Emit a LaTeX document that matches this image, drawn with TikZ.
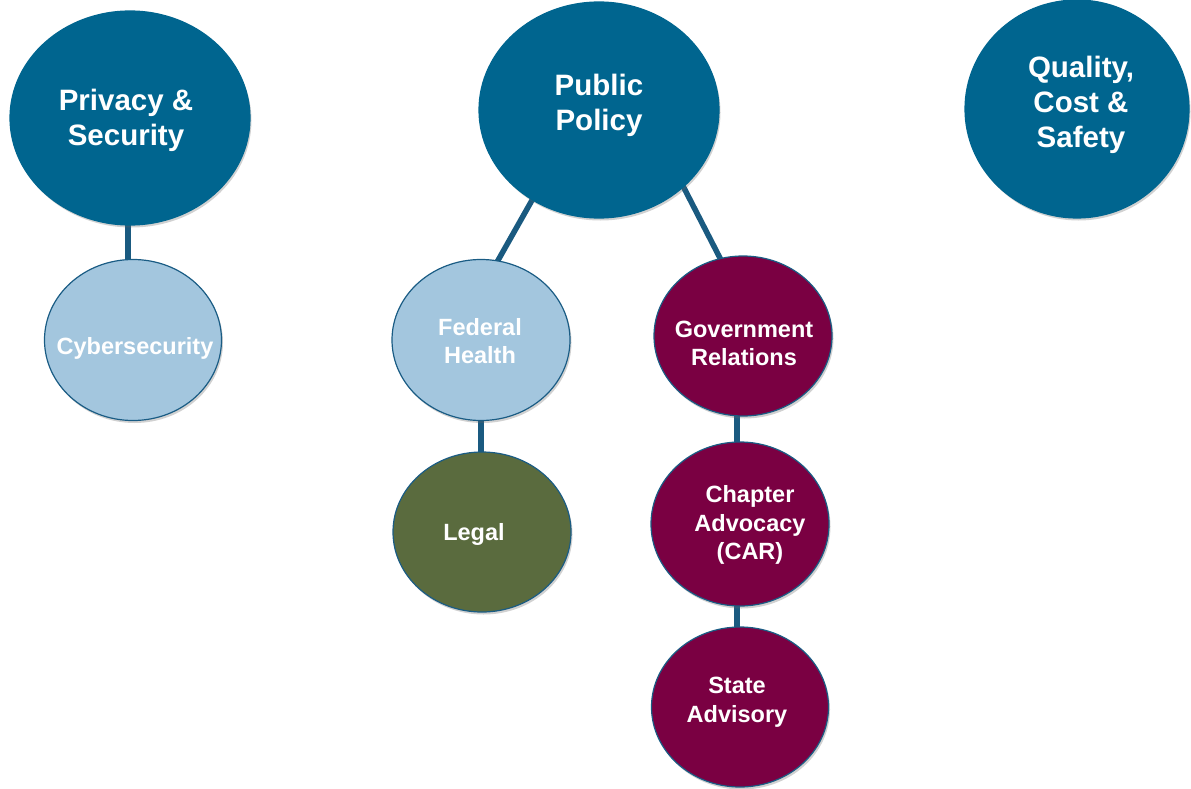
\documentclass[tikz,border=0pt]{standalone}
\usepackage{fontspec}
\setmainfont{Liberation Sans}
\usetikzlibrary{shapes.geometric,backgrounds,shadows}
\definecolor{darkblue}{HTML}{00658F}
\definecolor{lightblue}{HTML}{A3C6DE}
\definecolor{maroon}{HTML}{7A0042}
\definecolor{olive}{HTML}{5A6B3E}
\definecolor{edgeblue}{HTML}{1A5C84}
\definecolor{linkblue}{HTML}{1A5A80}
\tikzset{
  blob/.style={ellipse, draw=edgeblue, line width=1.2pt, inner sep=0pt,
    drop shadow={shadow xshift=1.5pt, shadow yshift=-2.5pt, opacity=0.3, fill=black!60}},
  bigblob/.style={blob, fill=darkblue, draw=darkblue},
  lbblob/.style={blob, fill=lightblue},
  mrblob/.style={blob, fill=maroon},
  olblob/.style={blob, fill=olive},
  bigtxt/.style={text=white, font=\fontsize{29.5}{35}\selectfont\bfseries, align=center, inner sep=0pt},
  smtxt/.style={text=white, font=\fontsize{23.5}{28.5}\selectfont\bfseries, align=center, inner sep=0pt},
  link/.style={draw=linkblue, line width=5.5pt}
}
\begin{document}
\begin{tikzpicture}[x=1pt,y=-1pt]
\useasboundingbox (0,0) rectangle (1191,789);
% main circles
\node[bigblob, minimum width=240pt, minimum height=214pt] (ps) at (130,118) {};
\node[bigblob, minimum width=240pt, minimum height=216pt] (pp) at (599,110) {};
\node[bigblob, minimum width=224pt, minimum height=218pt] (qcs) at (1077,109) {};
% sub circles
\node[lbblob, minimum width=177pt, minimum height=161pt] (cy) at (133,340) {};
\node[lbblob, minimum width=178pt, minimum height=161pt] (fh) at (481,340) {};
\node[mrblob, minimum width=178pt, minimum height=160pt] (gr) at (743,336) {};
\node[olblob, minimum width=178pt, minimum height=160pt] (lg) at (482,532) {};
\node[mrblob, minimum width=178pt, minimum height=164pt] (car) at (740,524) {};
\node[mrblob, minimum width=177pt, minimum height=160pt] (sa) at (740,707) {};
% texts
\node[bigtxt] (tps) at (126,120.5) {Privacy \&\\Security};
\node[bigtxt] (tpp) at (599,105) {Public\\Policy};
\node[bigtxt] (tqcs) at (1081,105) {Quality,\\Cost \&\\Safety};
\node[smtxt] (tcy) at (135,348) {Cybersecurity};
\node[smtxt] (tfh) at (480,341) {Federal\\Health};
\node[smtxt] (tgr) at (744,343.5) {Government\\Relations};
\node[smtxt] (tlg) at (474,534) {Legal};
\node[smtxt] (tcar) at (750,525) {Chapter\\Advocacy\\(CAR)};
\node[smtxt] (tsa) at (737,702) {State\\Advisory};
% connectors
\begin{scope}[on background layer]
\draw[link] ([xshift=-2pt]ps.center) -- ([xshift=-5pt]cy.center);
\draw[link] ([xshift=-16pt]pp.center) -- ([xshift=-28pt]fh.center);
\draw[link] ([xshift=45pt]pp.center) -- ([xshift=17pt]gr.center);
\draw[link] (fh.center) -- ([xshift=-1pt]lg.center);
\draw[link] ([xshift=-6pt]gr.center) -- ([xshift=-3pt]car.center);
\draw[link] ([xshift=-3pt]car.center) -- ([xshift=-3pt]sa.center);
\end{scope}
\end{tikzpicture}
\end{document}
